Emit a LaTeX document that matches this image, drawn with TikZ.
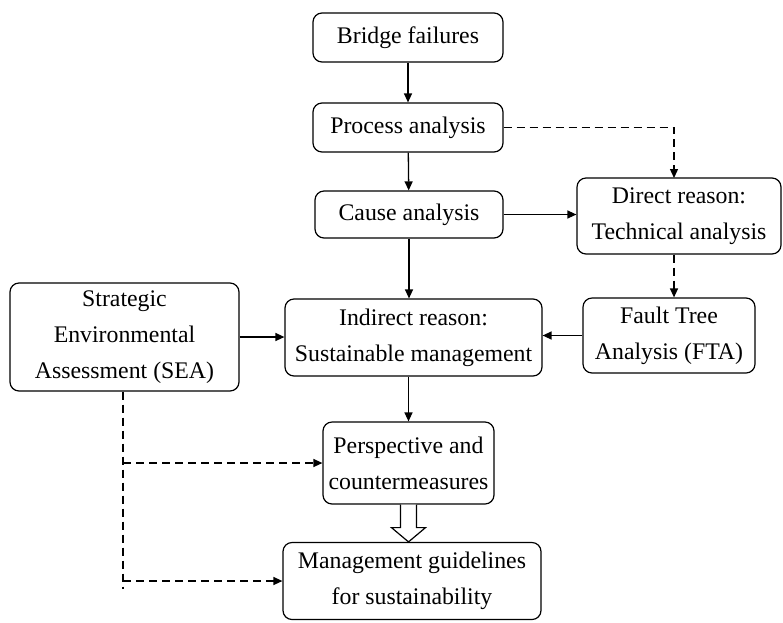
\documentclass[tikz,border=0pt]{standalone}
\usepackage{fontspec}
\setmainfont{Liberation Serif}
\usepackage{tikz}
\usetikzlibrary{calc,arrows.meta}
\definecolor{ink}{HTML}{000000}
\definecolor{paper}{HTML}{FFFFFF}
\tikzset{
  box/.style={draw=ink, line width=1.2pt, rounded corners=9pt, align=center, inner sep=0pt,
    font=\fontsize{23.8}{36}\selectfont},
  link/.style={draw=ink, line width=1.3pt, -{Triangle[length=9pt,width=8pt]}},
  dlink/.style={link, dash pattern=on 8pt off 5pt},
  dline/.style={draw=ink, line width=1.3pt, dash pattern=on 8pt off 5pt},
  hollow/.style={draw=ink, line width=1.2pt, fill=paper, line join=miter},
}

\begin{document}
\begin{tikzpicture}[x=1pt,y=-1pt]
  \useasboundingbox (0,0) rectangle (783,622);

  \node[box, minimum width=190pt, minimum height=49pt] (bridge) at (408,37.5) {Bridge failures};
  \node[box, minimum width=190pt, minimum height=49pt] (process) at (408,127.5) {Process analysis};
  \node[box, minimum width=188pt, minimum height=47pt] (cause) at (409,214.5) {Cause analysis};
  \node[box, minimum width=204pt, minimum height=76pt] (direct) at (679,216) {Direct reason:\\Technical analysis};
  \node[box, minimum width=229pt, minimum height=108pt] (sea) at (124.5,337) {Strategic\\Environmental\\Assessment (SEA)};
  \node[box, minimum width=257pt, minimum height=77pt] (indirect) at (413.5,337.5) {Indirect reason:\\Sustainable management};
  \node[box, minimum width=172pt, minimum height=75pt] (fta) at (669,335.5) {Fault Tree\\Analysis (FTA)};
  \node[box, minimum width=171pt, minimum height=82pt] (persp) at (408.5,463) {Perspective and\\countermeasures};
  \node[box, minimum width=258pt, minimum height=77pt] (mgmt) at (412,581) {Management guidelines\\for sustainability};

  \coordinate (dtop) at (674,178);
  \coordinate (seabot) at (123,589);

  \draw[link] (bridge) -- (process);
  \draw[link] (process) -- (cause);
  \draw[link] (cause.east) -- (cause.east -| direct.west);
  \draw[link] (cause.south) -- (cause.south |- indirect.north);
  \draw[link] (sea.east) -- (sea.east -| indirect.west);
  \draw[link] (fta.west) -- (fta.west -| indirect.east);
  \draw[link] (persp.north |- indirect.south) -- (persp.north);
  \draw[dlink] (process.east) -| (dtop);
  \draw[dlink] (dtop |- direct.south) -- (dtop |- fta.north);

  % SEA feeds the two lower boxes
  \draw[dline] (seabot |- sea.south) -- (seabot);
  \draw[dlink] (seabot |- persp.west) -- (persp.west);
  \draw[dlink] (seabot |- mgmt.west) -- (mgmt.west);

  \draw[hollow] ($(persp.south)+(-8,0)$) -- ($(persp.south)+(-8,23)$) -- ($(persp.south)+(-17,23)$)
    -- (persp.south |- mgmt.north) -- ($(persp.south)+(17,23)$) -- ($(persp.south)+(8,23)$)
    -- ($(persp.south)+(8,0)$);
\end{tikzpicture}
\end{document}
